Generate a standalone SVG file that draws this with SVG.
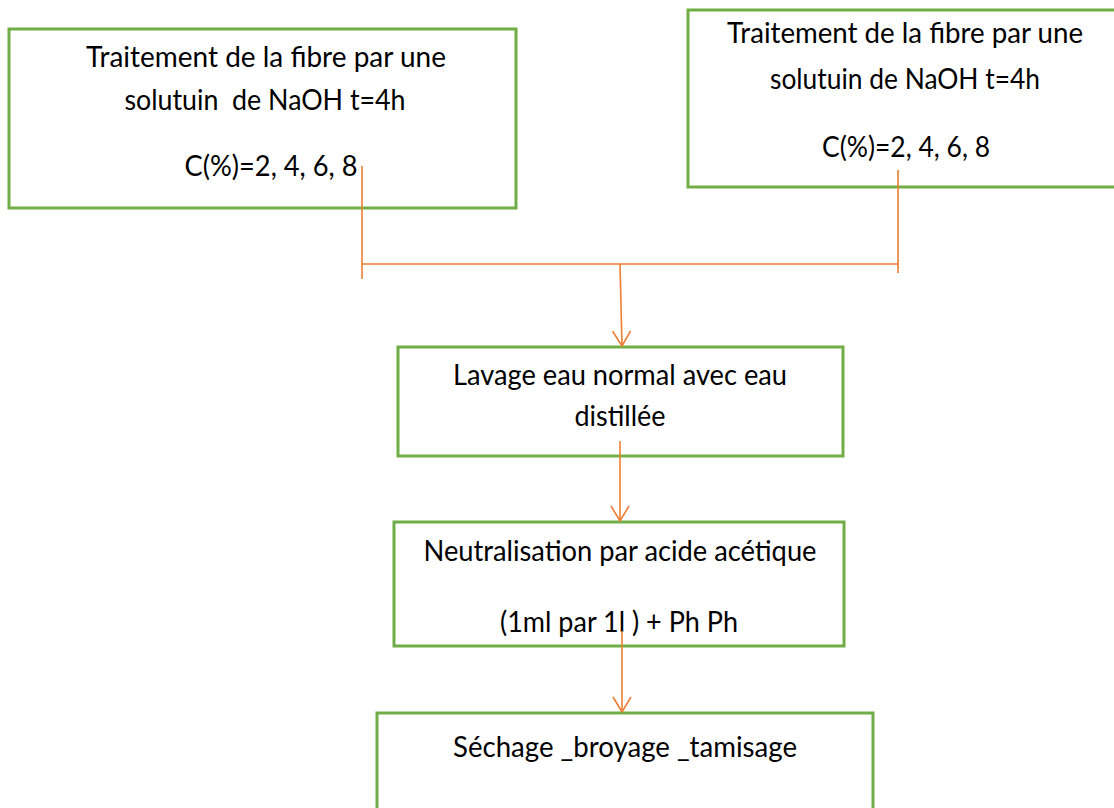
<svg xmlns="http://www.w3.org/2000/svg" width="1114" height="808" viewBox="0 0 1114 808">
<style>
.box{fill:#fff;stroke:#70AD47;stroke-width:3}
.t{font-family:Lato,"Open Sans","Liberation Sans",sans-serif;font-size:28px;fill:#000;text-anchor:middle;white-space:pre}
.c{stroke:#ED7D31;stroke-width:1.6;fill:none}
</style>
<defs>
<marker id="arr" markerUnits="userSpaceOnUse" markerWidth="20" markerHeight="22" viewBox="-17 -11 20 22" refX="0" refY="0" orient="auto">
<path d="M-15,-9 L0,0 L-15,9" fill="none" stroke="#ED7D31" stroke-width="1.6"/>
</marker>
</defs>
<rect width="1114" height="808" fill="#fff"/>
<g id="n1">
<rect class="box" x="9" y="29" width="507" height="179"/>
<text class="t" x="266" y="67" textLength="360" lengthAdjust="spacingAndGlyphs">Traitement de la fibre par une</text>
<text class="t" x="265" y="110" textLength="281" lengthAdjust="spacingAndGlyphs">solutuin  de NaOH t=4h</text>
<text class="t" x="271" y="176" textLength="173" lengthAdjust="spacingAndGlyphs">C(%)=2, 4, 6, 8</text>
</g>
<g id="n2">
<rect class="box" x="688" y="10" width="500" height="177"/>
<text class="t" x="905" y="43" textLength="356" lengthAdjust="spacingAndGlyphs">Traitement de la fibre par une</text>
<text class="t" x="905" y="89" textLength="270" lengthAdjust="spacingAndGlyphs">solutuin de NaOH t=4h</text>
<text class="t" x="906" y="157" textLength="168" lengthAdjust="spacingAndGlyphs">C(%)=2, 4, 6, 8</text>
</g>
<g id="n3">
<rect class="box" x="398" y="347" width="445" height="109"/>
<text class="t" x="620" y="385" textLength="334" lengthAdjust="spacingAndGlyphs">Lavage eau normal avec eau</text>
<text class="t" x="620" y="426" textLength="91" lengthAdjust="spacingAndGlyphs">distillée</text>
</g>
<g id="n4">
<rect class="box" x="394" y="522" width="450" height="124"/>
<text class="t" x="620" y="561" textLength="393" lengthAdjust="spacingAndGlyphs">Neutralisation par acide acétique</text>
<text class="t" x="619" y="632" textLength="238" lengthAdjust="spacingAndGlyphs">(1ml par 1l ) + Ph Ph</text>
</g>
<g id="n5">
<rect class="box" x="377" y="713" width="496" height="200"/>
<text class="t" x="625" y="757" textLength="344" lengthAdjust="spacingAndGlyphs">Séchage _broyage _tamisage</text>
</g>
<g id="connectors">
<line class="c" x1="362" y1="166" x2="362" y2="279"/>
<line class="c" x1="898" y1="170" x2="898" y2="273"/>
<line class="c" x1="362" y1="264" x2="898" y2="264"/>
<line class="c" x1="620" y1="264" x2="622" y2="346" marker-end="url(#arr)"/>
<line class="c" x1="620" y1="441" x2="620" y2="521" marker-end="url(#arr)"/>
<line class="c" x1="622" y1="631" x2="622" y2="712" marker-end="url(#arr)"/>
</g>
</svg>
